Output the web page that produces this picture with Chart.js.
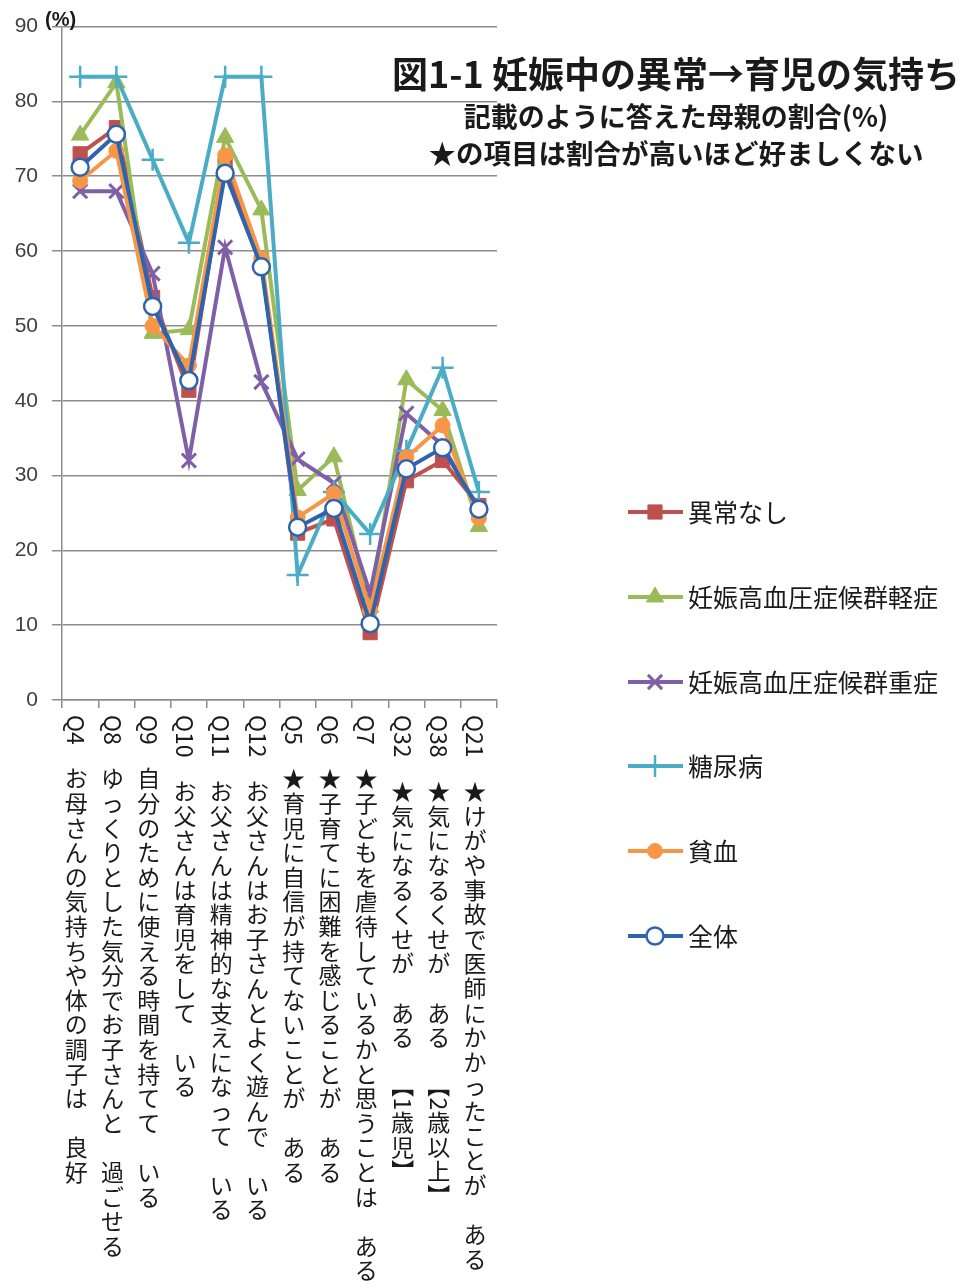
<!DOCTYPE html>
<html lang="ja">
<head>
<meta charset="utf-8">
<title>図1-1 妊娠中の異常→育児の気持ち</title>
<script src="https://cdn.jsdelivr.net/npm/chart.js@4.4.1/dist/chart.umd.min.js"></script>
<style>
  html, body { margin: 0; padding: 0; background: #fff; }
  #wrap { position: relative; width: 964px; height: 1287px; }
</style>
</head>
<body>
<div id="wrap"><canvas id="chart"></canvas></div>
<script>
// 設問コードと設問文（横軸）
const codes = ['Q4', 'Q8', 'Q9', 'Q10', 'Q11', 'Q12', 'Q5', 'Q6', 'Q7', 'Q32', 'Q38', 'Q21'];
const questions = [
  'お母さんの気持ちや体の調子は　良好',
  'ゆっくりとした気分でお子さんと　過ごせる',
  '自分のために使える時間を持てて　いる',
  'お父さんは育児をして　いる',
  'お父さんは精神的な支えになって　いる',
  'お父さんはお子さんとよく遊んで　いる',
  '★育児に自信が持てないことが　ある',
  '★子育てに困難を感じることが　ある',
  '★子どもを虐待しているかと思うことは　ある',
  '★気になるくせが　ある　【1歳児】',
  '★気になるくせが　ある　【2歳以上】',
  '★けがや事故で医師にかかったことが　ある'
];

// 縦軸 (%)
const yMin = 0, yMax = 90, yStep = 10;

// 群ごとの割合 (%)
const seriesNames = ['異常なし', '妊娠高血圧症候群軽症', '妊娠高血圧症候群重症', '糖尿病', '貧血', '全体'];
const noAbnormality = [73, 76.5, 53.8, 41.4, 71.5, 58.5, 22.3, 24.2, 9, 29.3, 32, 26];
const pihMild       = [75.5, 82.5, 49, 49.5, 75.2, 65.5, 28, 32.5, 12.4, 42.8, 38.7, 23.2];
const pihSevere     = [68, 68, 57, 32, 60.5, 42.5, 32.2, 29, 14.3, 38.3, 34, 25.5];
const diabetes      = [83.3, 83.3, 72.2, 61.1, 83.3, 83.3, 16.7, 27.8, 22.2, 33.3, 44.4, 27.8];
const anemia        = [69.4, 73.4, 50, 44.7, 72.8, 59, 24.4, 27.6, 12, 32.4, 36.7, 24.3];
const overall       = [71.2, 75.6, 52.6, 42.7, 70.4, 57.9, 23.1, 25.6, 10.2, 30.9, 33.7, 25.5];

const JP = '"Noto Sans CJK JP", "Noto Sans", sans-serif';
const GRID = '#8c8c8c';

const styles = [
  { color: '#C0504D', fill: '#C0504D', point: 'rect',     r: 10, bw: 1 },
  { color: '#9BBB59', fill: '#9BBB59', point: 'triangle', r: 10, bw: 1 },
  { color: '#7F5FA6', fill: '#7F5FA6', point: 'crossRot', r: 10, bw: 3 },
  { color: '#4BACC6', fill: '#4BACC6', point: 'cross',    r: 11, bw: 2.5 },
  { color: '#F79646', fill: '#F79646', point: 'circle',   r: 7.5, bw: 1 },
  { color: '#2E64AE', fill: '#ffffff', point: 'circle',   r: 8.5, bw: 2.5 }
];
const values = [noAbnormality, pihMild, pihSevere, diabetes, anemia, overall];

const datasets = seriesNames.map((name, i) => ({
  label: name,
  data: values[i],
  borderColor: styles[i].color,
  backgroundColor: styles[i].fill,
  borderWidth: 4,
  tension: 0,
  pointStyle: styles[i].point,
  pointRadius: styles[i].r,
  pointBackgroundColor: styles[i].fill,
  pointBorderColor: styles[i].color,
  pointBorderWidth: styles[i].bw,
  order: seriesNames.length - 1 - i   // 全体 が最前面
}));

// 縦書き：英数字と【】は90°回転、それ以外は正立
function drawVertical(ctx, str, x, y, step) {
  for (const ch of str) {
    if (/[\x21-\x7e【】]/.test(ch)) {
      const w = ctx.measureText(ch).width;
      ctx.save();
      ctx.translate(x, y);
      ctx.rotate(Math.PI / 2);
      ctx.textAlign = 'left';
      ctx.textBaseline = 'middle';
      ctx.fillText(ch, 0, 0);
      ctx.restore();
      y += w;
    } else {
      if (ch !== '　') {
        ctx.textAlign = 'center';
        ctx.textBaseline = 'middle';
        ctx.fillText(ch, x, y + step / 2);
      }
      y += step;
    }
  }
  return y;
}

const decorations = {
  id: 'decorations',
  afterDraw(chart) {
    const ctx = chart.ctx;
    const xs = chart.scales.x;
    const area = chart.chartArea;
    ctx.save();
    ctx.fillStyle = '#1a1a1a';

    // (%) 単位
    ctx.font = 'bold 20px "Liberation Sans", Arial, sans-serif';
    ctx.textAlign = 'left';
    ctx.textBaseline = 'middle';
    ctx.fillText('(%)', 45, 20);

    // 見出し
    ctx.textAlign = 'center';
    ctx.font = 'bold 36px ' + JP;
    ctx.fillText('図1-1 妊娠中の異常→育児の気持ち', 676, 74);
    ctx.font = 'bold 27px ' + JP;
    ctx.fillText('記載のように答えた母親の割合(%)', 676, 117);
    ctx.font = 'bold 27.5px ' + JP;
    ctx.fillText('★の項目は割合が高いほど好ましくない', 676, 154);

    // 横軸ラベル（縦書き）
    ctx.font = '23px ' + JP;
    codes.forEach((code, i) => {
      const cx = xs.getPixelForTick(i) - 4;
      const y = drawVertical(ctx, code + '　', cx, area.bottom + 15, 24.6);
      drawVertical(ctx, questions[i], cx, y - 3, 24.6);
    });

    // 凡例
    const legendY = [512, 597, 682, 766, 851, 936];
    chart.data.datasets.forEach((ds, i) => {
      const y = legendY[i];
      ctx.strokeStyle = ds.borderColor;
      ctx.lineWidth = 4;
      ctx.beginPath();
      ctx.moveTo(628, y);
      ctx.lineTo(683, y);
      ctx.stroke();
      if (Chart.helpers && Chart.helpers.drawPoint) {
        ctx.fillStyle = ds.pointBackgroundColor;
        ctx.strokeStyle = ds.pointBorderColor;
        ctx.lineWidth = ds.pointBorderWidth;
        Chart.helpers.drawPoint(ctx, {
          pointStyle: ds.pointStyle, radius: ds.pointRadius,
          rotation: 0, borderWidth: ds.pointBorderWidth
        }, 655, y);
      }
      ctx.fillStyle = '#1a1a1a';
      ctx.font = '25px ' + JP;
      ctx.textAlign = 'left';
      ctx.textBaseline = 'middle';
      ctx.fillText(ds.label, 688, y);
    });
    ctx.restore();
  }
};

new Chart(document.getElementById('chart'), {
  type: 'line',
  data: { labels: codes, datasets },
  options: {
    responsive: true,
    maintainAspectRatio: false,
    animation: false,
    layout: { padding: { top: 26, right: 467, bottom: 0, left: 0 } },
    plugins: {
      legend: { display: false },
      tooltip: { enabled: false },
      title: { display: false }
    },
    scales: {
      x: {
        type: 'category',
        offset: true,
        grid: { display: true, drawOnChartArea: false, drawTicks: true, tickLength: 8, color: GRID, lineWidth: 1.5, offset: true },
        border: { display: true, color: GRID, width: 1.5 },
        ticks: { display: false },
        afterFit(s) { s.height = 587; }
      },
      y: {
        min: yMin,
        max: yMax,
        ticks: {
          stepSize: yStep,
          padding: 14,
          color: '#404040',
          font: { family: '"Liberation Sans", Arial, sans-serif', size: 21 }
        },
        grid: { color: GRID, lineWidth: 1.5, tickLength: 10 },
        border: { color: GRID, width: 1.5 },
        afterFit(s) { s.width = 62; }
      }
    }
  },
  plugins: [decorations]
});
</script>
</body>
</html>
